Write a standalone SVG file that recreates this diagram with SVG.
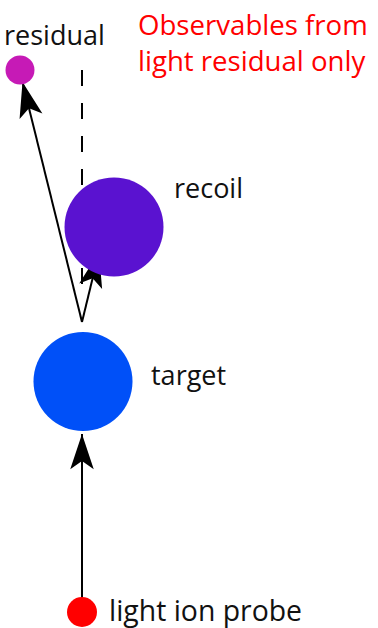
<svg xmlns="http://www.w3.org/2000/svg" width="378" height="628" viewBox="0 0 378 628">
  <style>
    .label { font-family: "Open Sans", "Liberation Sans", sans-serif; font-size: 27px; fill: #111; }
    .note { font-family: "Open Sans", "Liberation Sans", sans-serif; font-size: 27.6px; fill: #ff0000; }
    .ray { stroke: #000; stroke-width: 2; fill: none; }
    .dash { stroke: #000; stroke-width: 2; stroke-dasharray: 16 17; fill: none; }
  </style>
  <defs>
    <marker id="head" markerUnits="userSpaceOnUse" markerWidth="40" markerHeight="30" viewBox="-32 -12 34 24" refX="0" refY="0" orient="auto" overflow="visible">
      <path d="M0,0 L-30,-10 L-23,0 L-30,10 Z" fill="#000"/>
    </marker>
  </defs>
  <rect width="378" height="628" fill="#fff"/>

  <g id="connectors">
    <line class="dash" x1="82" y1="70" x2="82" y2="287"/>
    <line class="ray" x1="82" y1="600" x2="82" y2="434" marker-end="url(#head)"/>
    <line class="ray" x1="82" y1="322" x2="22.5" y2="82" marker-end="url(#head)"/>
    <line class="ray" x1="82" y1="322" x2="99" y2="252" marker-end="url(#head)"/>
  </g>

  <g id="residual">
    <circle cx="20" cy="70" r="14.5" fill="#c61ab6"/>
    <text class="label" x="4" y="45">residual</text>
  </g>

  <g id="recoil">
    <circle cx="114" cy="227" r="49.5" fill="#5a12d0"/>
    <text class="label" x="174" y="198">recoil</text>
  </g>

  <g id="target">
    <circle cx="83" cy="381.5" r="49.5" fill="#0050f8"/>
    <text class="label" x="151" y="385">target</text>
  </g>

  <g id="probe">
    <circle cx="82" cy="612" r="15" fill="#ff0000"/>
    <text class="label" x="109" y="621" style="font-size:28.4px">light ion probe</text>
  </g>

  <g id="note">
    <text class="note" x="138" y="35">Observables from</text>
    <text class="note" x="138" y="71">light residual only</text>
  </g>
</svg>
